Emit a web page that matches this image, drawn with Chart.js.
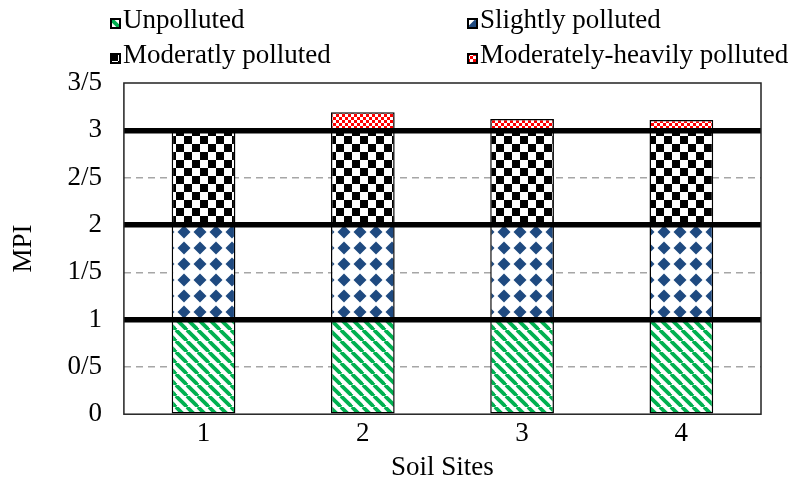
<!DOCTYPE html>
<html>
<head>
<meta charset="utf-8">
<script src="https://cdn.jsdelivr.net/npm/chart.js@4.4.1/dist/chart.umd.min.js"></script>
<style>
	html, body { margin: 0; padding: 0; background: #fff; }
	#wrap { position: relative; width: 795px; height: 482px; }
	#legend { position: absolute; left: 0; top: 0; width: 795px; height: 80px; font-family: "Liberation Serif", "Times New Roman", serif; font-size: 27px; color: #000; }
	.item { position: absolute; white-space: nowrap; line-height: 30px; }
	.item canvas { display: inline-block; vertical-align: -1px; margin-right: 2px; }
</style>
</head>
<body>
<div id="wrap">
	<canvas id="chart-mpi" width="795" height="482"></canvas>
	<div id="legend"></div>
</div>
<script>
const SITES = ["1", "2", "3", "4"];
const UNPOLLUTED = [1, 1, 1, 1];
const SLIGHTLY = [1, 1, 1, 1];
const MODERATELY = [1, 1, 1, 1];
const MOD_HEAVY = [null, 0.19, 0.12, 0.11];
const Y_TICK_LABELS = ["0", "0/5", "1", "1/5", "2", "2/5", "3", "3/5"];
const SERIES_NAMES = ["Unpolluted", "Slightly polluted", "Moderatly polluted", "Moderately-heavily polluted"];

const FONT = "'Liberation Serif', 'Times New Roman', serif";
const FONT_SIZE = 27;

//---------------------------------------------------------
// Fill patterns
//---------------------------------------------------------
const makeTile = (size, paint) => {
	const tile = document.createElement("canvas");
	tile.width = size;
	tile.height = size;
	const c = tile.getContext("2d");
	c.fillStyle = "#fff";
	c.fillRect(0, 0, size, size);
	paint(c, size);
	return tile;
};

const TILES = {
	stripes: makeTile(11, (c, s) => {
		c.strokeStyle = "#00B050";
		c.lineWidth = 3.8;
		for (const x0 of [-s, 0, s]) {
			c.beginPath();
			c.moveTo(x0, 0);
			c.lineTo(x0 + s, s);
			c.stroke();
		}
	}),
	diamonds: makeTile(16, (c) => {
		c.fillStyle = "#1F4A80";
		c.beginPath();
		c.moveTo(8, 1.5);
		c.lineTo(14.5, 8);
		c.lineTo(8, 14.5);
		c.lineTo(1.5, 8);
		c.closePath();
		c.fill();
	}),
	checker: makeTile(16, (c) => {
		c.fillStyle = "#000";
		c.fillRect(0, 0, 8, 8);
		c.fillRect(8, 8, 8, 8);
	}),
	redChecker: makeTile(6, (c) => {
		c.fillStyle = "#FF0000";
		c.fillRect(0, 0, 3, 3);
		c.fillRect(3, 3, 3, 3);
	}),
};

const CANVAS = document.getElementById("chart-mpi");
const CTX = CANVAS.getContext("2d");
const pattern = (name) => CTX.createPattern(TILES[name], "repeat");

const PATTERN_NAMES = ["stripes", "diamonds", "checker", "redChecker"];
const SERIES_DATA = [UNPOLLUTED, SLIGHTLY, MODERATELY, MOD_HEAVY];

//---------------------------------------------------------
// Chart
//---------------------------------------------------------
const CHART_DATA = {
	labels: SITES,
	datasets: SERIES_NAMES.map((name, i) => ({
		label: name,
		data: SERIES_DATA[i],
		backgroundColor: pattern(PATTERN_NAMES[i]),
		borderColor: "#000",
		borderWidth: 1.5,
		borderSkipped: false,
		categoryPercentage: 0.4,
		barPercentage: 1,
		yAxisID: "y",
	})),
};

// Frame around the plot area
const plotFrame = {
	id: "plotFrame",
	afterDraw(chart) {
		const { ctx, chartArea } = chart;
		ctx.save();
		ctx.strokeStyle = "#222";
		ctx.lineWidth = 1.5;
		ctx.strokeRect(chartArea.left, chartArea.top, chartArea.right - chartArea.left, chartArea.bottom - chartArea.top);
		ctx.restore();
	},
};

const CHART_CONFIG = {
	type: "bar",
	data: CHART_DATA,
	options: {
		responsive: false,
		animation: false,
		layout: {
			padding: { left: 8, right: 34, top: 83, bottom: 0 },
		},
		scales: {
			x: {
				stacked: true,
				grid: { display: false, drawTicks: false },
				border: { display: false },
				ticks: {
					color: "#000",
					padding: 4,
					font: { family: FONT, size: FONT_SIZE },
				},
				title: {
					display: true,
					text: "Soil Sites",
					color: "#000",
					padding: { top: -3, bottom: -2 },
					font: { family: FONT, size: FONT_SIZE },
				},
			},
			y: {
				stacked: true,
				min: 0,
				max: 3.5,
				border: { display: false, dash: [7, 5] },
				grid: {
					drawTicks: false,
					lineWidth: 1.5,
					color: (c) => (c.tick && c.tick.value % 1 === 0.5 && c.tick.value < 3.5 ? "#A6A6A6" : "rgba(0,0,0,0)"),
				},
				ticks: {
					stepSize: 0.5,
					color: "#000",
					padding: 22,
					font: { family: FONT, size: FONT_SIZE },
					callback: (value, index) => Y_TICK_LABELS[index],
				},
				title: {
					display: true,
					text: "MPI",
					color: "#000",
					padding: { top: 0, bottom: 5 },
					font: { family: FONT, size: FONT_SIZE },
				},
			},
			// thick level lines drawn over the bars
			y2: {
				position: "right",
				min: 0,
				max: 3.5,
				border: { display: false },
				grid: {
					z: 1,
					drawTicks: false,
					lineWidth: 5.5,
					color: (c) => (c.tick && [1, 2, 3].includes(c.tick.value) ? "#000" : "rgba(0,0,0,0)"),
				},
				ticks: { display: false, stepSize: 1 },
			},
		},
		plugins: {
			legend: { display: false },
			tooltip: { enabled: false },
		},
	},
	plugins: [plotFrame],
};

const mpiChart = new Chart(CANVAS, CHART_CONFIG);

//---------------------------------------------------------
// Legend (two columns)
//---------------------------------------------------------
const LEGEND = document.getElementById("legend");
const LEGEND_COLS = [110, 467];
const LEGEND_ROWS = [4, 39];
mpiChart.data.datasets.forEach((ds, i) => {
	const item = document.createElement("div");
	item.className = "item";
	item.style.left = LEGEND_COLS[i % 2] + "px";
	item.style.top = LEGEND_ROWS[Math.floor(i / 2)] + "px";
	const sw = document.createElement("canvas");
	sw.width = 11;
	sw.height = 11;
	const sc = sw.getContext("2d");
	sc.fillStyle = sc.createPattern(TILES[PATTERN_NAMES[i]], "repeat");
	sc.fillRect(0, 0, 11, 11);
	sc.strokeStyle = "#000";
	sc.lineWidth = 2;
	sc.strokeRect(1, 1, 9, 9);
	item.appendChild(sw);
	item.appendChild(document.createTextNode(ds.label));
	LEGEND.appendChild(item);
});
</script>
</body>
</html>
